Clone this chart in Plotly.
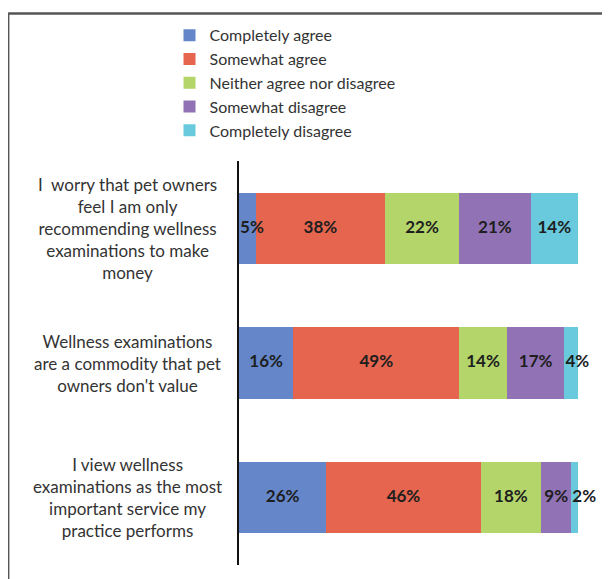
import plotly.graph_objects as go

categories = [
    "I  worry that pet owners<br>feel I am only<br>recommending wellness<br>examinations to make<br>money",
    "Wellness examinations<br>are a commodity that pet<br>owners don't value",
    "I view wellness<br>examinations as the most<br>important service my<br>practice performs",
]
series_names = ["Completely agree", "Somewhat agree", "Neither agree nor disagree",
                "Somewhat disagree", "Completely disagree"]
completely_agree = [5, 16, 26]
somewhat_agree = [38, 49, 46]
neither = [22, 14, 18]
somewhat_disagree = [21, 17, 9]
completely_disagree = [14, 4, 2]
colors = ["#6587CA", "#E5654F", "#B3D56A", "#9173B5", "#68CADC"]

series_values = [completely_agree, somewhat_agree, neither, somewhat_disagree, completely_disagree]
ykeys = ["q1", "q2", "q3"]
FONT = "Lato, Open Sans, sans-serif"

fig = go.Figure()
for name, vals, col in zip(series_names, series_values, colors):
    fig.add_trace(go.Bar(
        y=ykeys, x=vals, name=name, orientation="h",
        marker=dict(color=col, line=dict(width=0)),
        hoverinfo="skip",
    ))

# data labels (100% stacked: positions normalized by row total)
lx, ly, lt, lp = [], [], [], []
for i, k in enumerate(ykeys):
    total = sum(vals[i] for vals in series_values)
    cum = 0
    for vals in series_values:
        v = vals[i]
        if v <= 5:
            lx.append((cum + 0.3) * 100 / total)
            lp.append("middle right")
        else:
            lx.append((cum + v / 2) * 100 / total)
            lp.append("middle center")
        ly.append(k)
        lt.append(f"<b>{v}%</b>")
        cum += v
fig.add_trace(go.Scatter(
    x=lx, y=ly, text=lt, mode="text", textposition=lp, showlegend=False,
    textfont=dict(family=FONT, size=17, color="#1E1E1E"),
    hoverinfo="skip", cliponaxis=False,
))

annotations = []
for k, c in zip(ykeys, categories):
    annotations.append(dict(
        x=-0.33, xref="paper", y=k, yref="y", text=c, showarrow=False,
        align="center", xanchor="center", yanchor="middle",
        font=dict(family=FONT, size=17, color="#333333"),
    ))

shapes = [
    dict(type="line", xref="paper", yref="paper", x0=-0.681, x1=1.2, y0=1.365, y1=1.365,
         line=dict(color="#555555", width=2.5)),
    dict(type="line", xref="paper", yref="paper", x0=-0.681, x1=-0.681, y0=1.365, y1=-0.1,
         line=dict(color="#555555", width=2.5)),
]

fig.update_layout(
    width=610, height=579,
    margin=dict(l=231, r=40, t=152, b=22),
    barmode="stack",
    barnorm="percent",
    bargap=0.47,
    plot_bgcolor="white", paper_bgcolor="white",
    font=dict(family=FONT, size=15, color="#333333"),
    legend=dict(
        x=-0.205, y=1.35, xanchor="left", yanchor="top",
        traceorder="normal", itemwidth=30,
        font=dict(family=FONT, size=16, color="#333333"),
        bgcolor="rgba(0,0,0,0)", tracegroupgap=0,
    ),
    xaxis=dict(range=[0, 100], visible=False, fixedrange=True),
    yaxis=dict(categoryorder="array", categoryarray=ykeys[::-1],
               showticklabels=False, showline=True, linecolor="#111111", linewidth=1.5,
               showgrid=False, zeroline=False, ticks=""),
    annotations=annotations,
    shapes=shapes,
)

fig.write_html("out.html")
